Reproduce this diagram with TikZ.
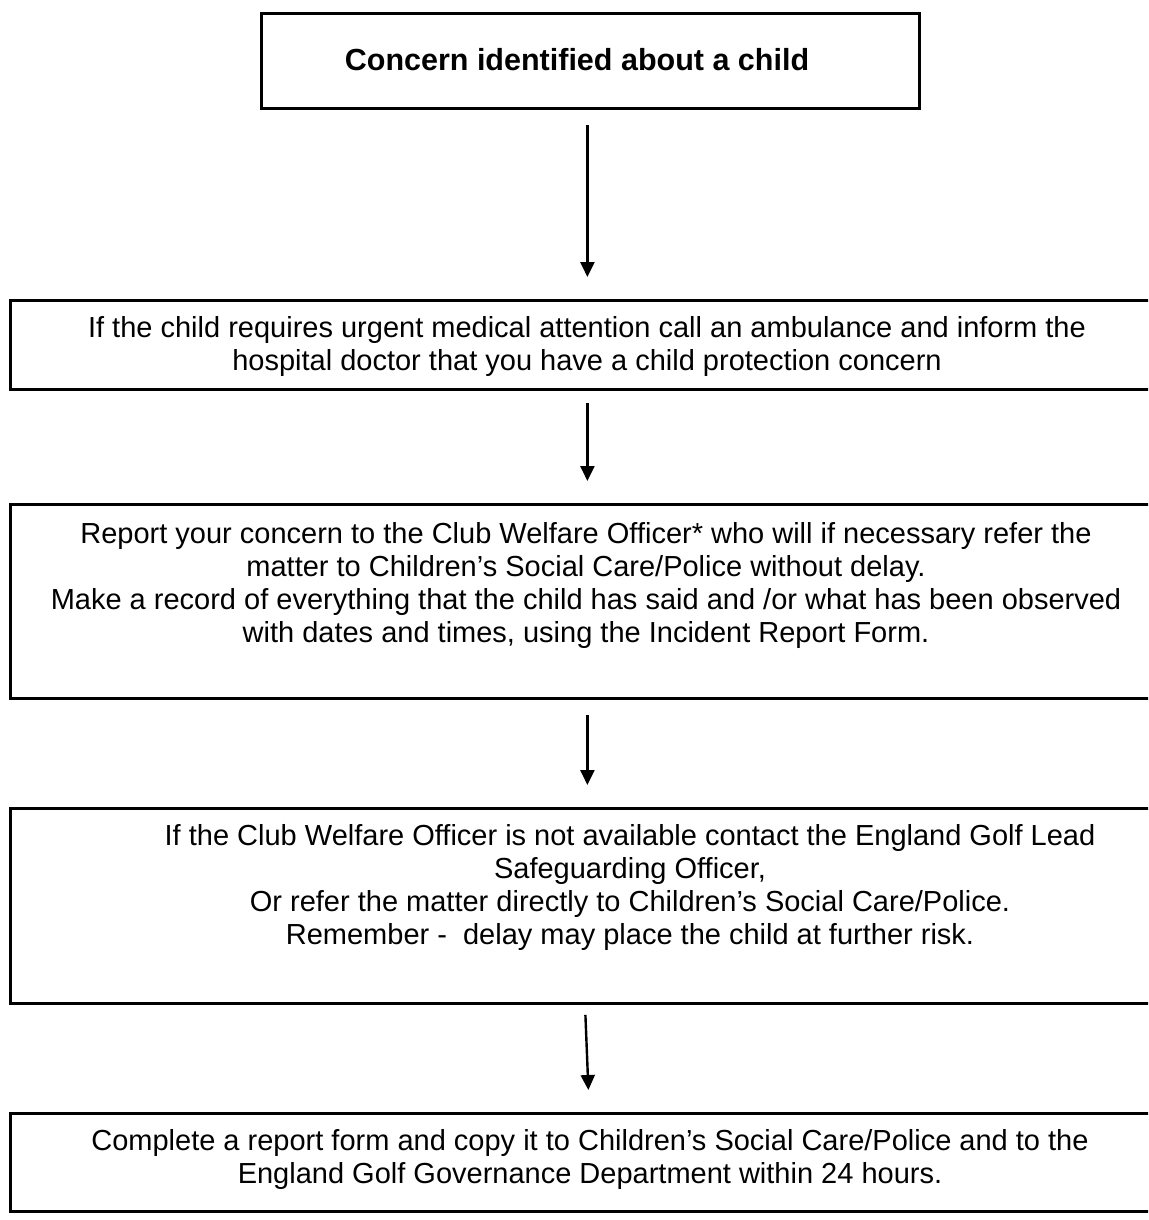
\documentclass[tikz,border=0pt]{standalone}
\usepackage{fontspec}
\setmainfont{Liberation Sans}
\usetikzlibrary{arrows.meta}
\begin{document}
\begin{tikzpicture}[x=1pt,y=-1pt,
  frame/.style={draw=black, line width=2.8pt, rectangle, inner sep=0pt, anchor=north west},
  txt/.style={font=\fontsize{29}{33}\selectfont, align=center, inner sep=0pt, anchor=north},
  flow/.style={-{Triangle[width=14pt,length=15pt]}, line width=2.4pt}]
\useasboundingbox (0,0) rectangle (1148,1220);
\clip (0,0) rectangle (1148,1220);

\node[frame, minimum width=658pt, minimum height=95pt] (b1) at (260,12) {};
\node[font=\bfseries\fontsize{30.5}{34}\selectfont, inner sep=0pt] (t1) at (577,59.5) {Concern identified about a child};

\node[frame, minimum width=1163pt, minimum height=89pt] (b2) at (9,299) {};
\node[txt] (t2) at (587,316.6) {If the child requires urgent medical attention call an ambulance and inform the\\hospital doctor that you have a child protection concern};

\node[frame, minimum width=1163pt, minimum height=194pt] (b3) at (9,503) {};
\node[txt] (t3) at (586,522.6) {Report your concern to the Club Welfare Officer* who will if necessary refer the\\matter to Children’s Social Care/Police without delay.\\Make a record of everything that the child has said and /or what has been observed\\with dates and times, using the Incident Report Form.};

\node[frame, minimum width=1163pt, minimum height=195pt] (b4) at (9,807) {};
\node[txt] (t4) at (630,824.6) {If the Club Welfare Officer is not available contact the England Golf Lead\\Safeguarding Officer,\\Or refer the matter directly to Children’s Social Care/Police.\\Remember -~ delay may place the child at further risk.};

\node[frame, minimum width=1163pt, minimum height=98pt] (b5) at (9,1112) {};
\node[txt] (t5) at (590,1129.6) {Complete a report form and copy it to Children’s Social Care/Police and to the\\England Golf Governance Department within 24 hours.};

\draw[flow] ([xshift=-3pt,yshift=-15pt]b1.south) -- ([xshift=-4.5pt,yshift=22pt]b2.north);
\draw[flow] ([xshift=-4.5pt,yshift=-12pt]b2.south) -- ([xshift=-4.5pt,yshift=22pt]b3.north);
\draw[flow] ([xshift=-4.5pt,yshift=-15pt]b3.south) -- ([xshift=-4.5pt,yshift=22pt]b4.north);
\draw[flow] ([xshift=-6.5pt,yshift=-10pt]b4.south) -- ([xshift=-3.5pt,yshift=22pt]b5.north);
\end{tikzpicture}
\end{document}
